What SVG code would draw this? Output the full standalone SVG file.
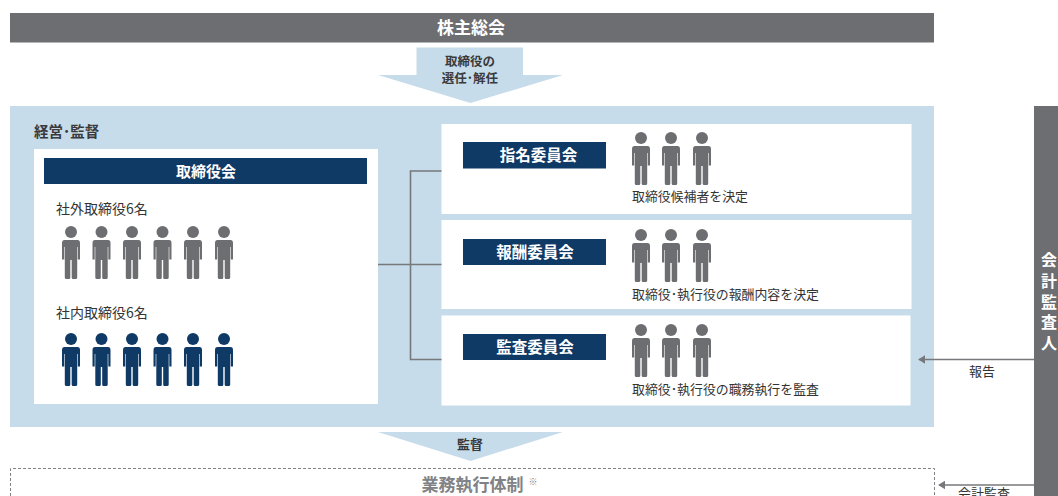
<svg xmlns="http://www.w3.org/2000/svg" xmlns:xlink="http://www.w3.org/1999/xlink" width="1058" height="496" viewBox="0 0 1058 496">
<style>
text{font-family:"Noto Sans CJK JP","Noto Sans",sans-serif}
.w{fill:#fff;font-weight:700;text-anchor:middle}
.d{fill:#333;font-size:12.900px}
.b{fill:#3a3a3c;font-weight:700}
.navy{fill:#0f3a66}
.conn{fill:none;stroke:#77787b;stroke-width:1.6}
.arr{fill:none;stroke:#77787b;stroke-width:1.6;marker-end:url(#ah)}
.g{fill:#6d6e71}
.n{fill:#0f3a66}
</style>
<defs>
<marker id="ah" viewBox="0 0 8 10" refX="7" refY="5" markerWidth="7" markerHeight="9" markerUnits="userSpaceOnUse" orient="auto"><path d="M0 0L8 5L0 10Z" fill="#77787b"/></marker>
<g id="person">
<circle cx="0" cy="6" r="6"/>
<path d="M-6.500 14H6.500Q9 14 9 17V33.500H6.800V21H6.200V33V51.500Q6.200 53 4.700 53H2Q0.700 53 0.700 51.500V34H-0.700V51.500Q-0.700 53 -2 53H-4.700Q-6.200 53 -6.200 51.500V21H-6.800V33.500H-9V17Q-9 14 -6.500 14Z"/>
</g>
</defs>
<rect id="bg" width="1058" height="496" fill="#fff"/>

<g id="shareholders"><rect x="10" y="13" width="924" height="29.500" class="g"/><text x="471" y="34" class="w" font-size="17">株主総会</text></g>

<g id="appoint-arrow"><path d="M416.500 47.500H523V75H563L470.500 103L378 75H416.500Z" fill="#c6dcea"/><text text-anchor="middle" font-size="12.500" class="b"><tspan x="470" y="66">取締役の</tspan><tspan x="470" y="82.500">選任･解任</tspan></text></g>

<g id="management"><rect x="10" y="106" width="924" height="321" fill="#c6dcea"/><text x="34" y="137" font-size="14.500" class="b">経営･監督</text></g>

<g id="board"><rect x="34" y="149" width="344" height="255" fill="#fff"/><rect x="44" y="158" width="323" height="26" class="navy"/><text x="206" y="176.500" class="w" font-size="15">取締役会</text>
<text x="56" y="214" font-size="14" fill="#333">社外取締役6名</text><text x="56" y="318" font-size="14" fill="#333">社内取締役6名</text>
<g class="g"><use xlink:href="#person" x="71" y="226"/><use xlink:href="#person" x="101.500" y="226"/><use xlink:href="#person" x="132" y="226"/><use xlink:href="#person" x="162.500" y="226"/><use xlink:href="#person" x="193" y="226"/><use xlink:href="#person" x="224" y="226"/></g>
<g class="n"><use xlink:href="#person" x="71" y="333"/><use xlink:href="#person" x="101.500" y="333"/><use xlink:href="#person" x="132" y="333"/><use xlink:href="#person" x="162.500" y="333"/><use xlink:href="#person" x="193" y="333"/><use xlink:href="#person" x="224" y="333"/></g></g>

<g id="nominating"><rect x="441.500" y="124" width="470" height="90" fill="#fff"/><rect x="463" y="142" width="143" height="26.500" class="navy"/><text x="538.500" y="160.500" class="w" font-size="15.500">指名委員会</text><g class="g"><use xlink:href="#person" x="641" y="132"/><use xlink:href="#person" x="671" y="132"/><use xlink:href="#person" x="702" y="132"/></g><text x="632" y="201" class="d">取締役候補者を決定</text></g>

<g id="compensation"><rect x="441.500" y="220" width="470" height="89" fill="#fff"/><rect x="463" y="239" width="143" height="26" class="navy"/><text x="535" y="257.500" class="w" font-size="15.500">報酬委員会</text><g class="g"><use xlink:href="#person" x="641" y="229"/><use xlink:href="#person" x="671" y="229"/><use xlink:href="#person" x="702" y="229"/></g><text x="632" y="299" class="d">取締役･執行役の報酬内容を決定</text></g>

<g id="audit"><rect x="441.500" y="315.500" width="469" height="90" fill="#fff"/><rect x="463" y="334" width="143" height="26" class="navy"/><text x="535" y="352.500" class="w" font-size="15.500">監査委員会</text><g class="g"><use xlink:href="#person" x="641" y="324"/><use xlink:href="#person" x="671" y="324"/><use xlink:href="#person" x="702" y="324"/></g><text x="632" y="394" class="d">取締役･執行役の職務執行を監査</text></g>

<g id="supervise-arrow"><path d="M378 432H563L470.500 461Z" fill="#c6dcea"/><text x="470" y="449" text-anchor="middle" font-size="13" class="b">監督</text></g>

<g id="execution"><path d="M10.500 496V468.500H934.500V496" fill="none" stroke="#808285" stroke-width="1" stroke-dasharray="3 2"/><text x="472.500" y="490.500" text-anchor="middle" font-size="17" font-weight="700" fill="#808285">業務執行体制</text><text x="533" y="485" text-anchor="middle" font-size="9" fill="#808285">※</text></g>

<g id="auditor"><rect x="1034" y="106" width="24" height="390" class="g"/><text x="1049" y="252" font-size="16" font-weight="700" fill="#fff" style="writing-mode:vertical-rl;letter-spacing:4.800px">会計監査人</text></g>

<g id="connectors">
<path class="conn" d="M378 264.500H441.500M441.500 171H410.500V359.500H441.500"/>
<path class="arr" d="M1034 359.500H919"/>
<path class="arr" d="M1034 485H939"/>
</g>
<text x="982" y="376" text-anchor="middle" font-size="13" fill="#333">報告</text>
<text x="984" y="498" text-anchor="middle" font-size="13" fill="#333">会計監査</text>
</svg>
